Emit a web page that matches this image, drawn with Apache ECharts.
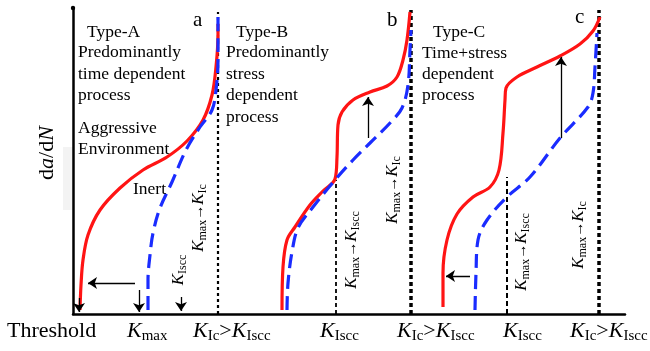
<!DOCTYPE html>
<html><head><meta charset="utf-8">
<script src="https://cdn.jsdelivr.net/npm/echarts@6/dist/echarts.min.js"></script>
<style>html,body{margin:0;padding:0;background:#fff}#c{width:650px;height:351px}</style>
</head><body><div id="c"></div>
<script>
// Schematic curves: [K-position, log da/dN] in arbitrary schematic units
var redA = [[7,4],[8,29],[10,54],[15,79],[27,104],[47,126],[70,144],[94,157],[114,173],[130,194],[139,219],[143,247],[145,279],[145,290]];
var blueA = [[75,4],[75,34],[77,59],[80,81],[87,106],[99,132],[113,164],[127,187],[139,204],[143,224],[145,254],[145,284],[145,299]];
var redB = [[209,4],[210,47],[214,74],[222,87],[237,109],[250,123],[262,135],[264,157],[265,189],[269,202],[280,214],[297,222],[314,228],[324,237],[330,254],[334,274],[337,302]];
var blueB = [[214,4],[215,31],[219,62],[225,86],[240,107],[262,134],[280,154],[297,171],[317,191],[329,206],[335,229],[337,264],[338,284]];
var redC = [[370,7],[370,41],[374,74],[384,100],[400,117],[417,127],[426,144],[430,181],[432,214],[433,226],[444,237],[464,247],[487,258],[507,270],[520,283],[527,297]];
var blueC = [[402,4],[403,41],[405,74],[414,94],[434,117],[457,137],[487,176],[515,207],[520,221],[522,247],[524,281]];
// Reference lines: [x, yTop]
var guideKIcA = [145, 302];
var guideKIcB = [338, 304];
var guideKIsccB = [263, 134];
var guideKIcC = [526, 304];
var guideKIsccC = [434, 137];
// Arrows: [[x0,y0],[x1,y1]]
var arrows = [
  [[62,31],[15,31]],
  [[6,16],[6,2]],
  [[66,24],[66,2]],
  [[108,17],[108,3]],
  [[295,176],[295,217]],
  [[488,176],[488,257]],
  [[397,38],[373,38]]
];
var bottomLabels = ['Threshold','K_max','K_Ic>K_Iscc','K_Iscc','K_Ic>K_Iscc','K_Iscc','K_Ic>K_Iscc'];

var RED = '#ff1414', BLUE = '#1a2cff';
var serif = 'Liberation Serif';
function curve(d, color, dashed, z) {
  return {type:'line', data:d, smooth:0.35, showSymbol:false, silent:true, z:z,
    lineStyle:{color:color, width: dashed?3.2:3.2, type: dashed?[14,7]:'solid', cap:'butt'}};
}
function guide(g, width, dash) {
  return {type:'line', data:[[g[0],0],[g[0],g[1]]], showSymbol:false, silent:true, z:1,
    lineStyle:{color:'#000', width:width, type:dash}};
}
var series = [
  guide(guideKIcA, 2.2, [3,3]),
  guide(guideKIcB, 3.5, [4,3]),
  guide(guideKIsccB, 1.8, [4,3]),
  guide(guideKIcC, 3.5, [4,3]),
  guide(guideKIsccC, 2, [5,3]),
  curve(redA, RED, false, 3), curve(blueA, BLUE, true, 4),
  curve(redB, RED, false, 3), curve(blueB, BLUE, true, 4),
  curve(redC, RED, false, 3), curve(blueC, BLUE, true, 4),
  {type:'lines', coordinateSystem:'cartesian2d', silent:true, z:5,
   symbol:['none','arrow'], symbolSize:[7,9],
   lineStyle:{color:'#000', width:1.3, opacity:1, curveness:0},
   data: arrows.map(function(a){return {coords:a};})}
];

// rich text helpers
var rich = {
  t:{fontFamily:serif, fontSize:22, color:'#000', lineHeight:26},
  k:{fontFamily:serif, fontSize:22, fontStyle:'italic', color:'#000', lineHeight:26},
  s:{fontFamily:serif, fontSize:15, color:'#000', lineHeight:15, verticalAlign:'bottom'},
  kr:{fontFamily:serif, fontSize:17, fontStyle:'italic', color:'#000', lineHeight:20},
  sr:{fontFamily:serif, fontSize:12, color:'#000', lineHeight:12, verticalAlign:'bottom'},
  ar:{fontFamily:serif, fontSize:15, color:'#000', lineHeight:20}
};
function fmt(lbl, big) {
  if (lbl === 'Threshold') return '{t|Threshold}';
  var k = big ? 'k' : 'kr', s = big ? 's' : 'sr';
  return lbl.split(/(>|→)/).map(function(p){
    if (p === '>') return '{t|>}';
    if (p === '→') return '{ar|→}';
    var m = p.split('_');
    return '{'+k+'|'+m[0]+'}{'+s+'|'+m[1]+'}';
  }).join('');
}
var bottomX = [7,127,193,320,397,503,570];
var graphics = [];
graphics.push({type:'rect', shape:{x:63,y:147,width:10,height:63}, style:{fill:'#f3f3f3'}, z:-1});
graphics.push({type:'circle', shape:{cx:73,cy:8,r:2.2}, style:{fill:'#000'}, z:10});
bottomLabels.forEach(function(l,i){
  graphics.push({type:'text', x:bottomX[i], y:331, style:{text:fmt(l,true), rich:rich, verticalAlign:'middle', align:'left'}, z:10});
});
function txt(s, x, y, size, extra) {
  var st = {text:s, fontFamily:serif, fontSize:size||17, fill:'#000', verticalAlign:'middle', align:'left'};
  if (extra) for (var k in extra) st[k]=extra[k];
  graphics.push({type:'text', x:x, y:y, style:st, z:10});
}
var tsize = 17.5;
txt('Type-A',87,32,tsize); txt('Predominantly',78,52,tsize); txt('time dependent',78,74,tsize); txt('process',78,95,tsize);
txt('Aggressive',78,128,tsize); txt('Environment',78,149,tsize); txt('Inert',133,189,tsize);
txt('Type-B',236,32,tsize); txt('Predominantly',226,52,tsize); txt('stress',226,74,tsize); txt('dependent',226,95,tsize); txt('process',226,117,tsize);
txt('Type-C',433,32,tsize); txt('Time+stress',422,53,tsize); txt('dependent',422,74,tsize); txt('process',422,95,tsize);
txt('a',193,20,21); txt('b',387,20,21); txt('c',575,17,21);
// y axis name
graphics.push({type:'text', x:47, y:153, rotation:Math.PI/2,
  style:{text:'{t|d}{k|a}{t|/d}{k|N}', rich:rich, align:'center', verticalAlign:'middle'}, z:10});
// rotated annotations
function rot(lbl, cx, cy) {
  graphics.push({type:'text', x:cx, y:cy, rotation:Math.PI/2,
    style:{text:fmt(lbl,false), rich:rich, align:'center', verticalAlign:'middle'}, z:10});
}
rot('K_Iscc',179,270); rot('K_max→K_Ic',199,218);
rot('K_max→K_Iscc',352,250); rot('K_max→K_Ic',393,190);
rot('K_max→K_Iscc',522,252); rot('K_max→K_Ic',579,235);

var chart = echarts.init(document.getElementById('c'), null, {renderer:'canvas'});
chart.setOption({
  animation:false,
  backgroundColor:'#fff',
  grid:{left:73, right:25, top:8, bottom:37},
  xAxis:{type:'value', min:0, max:552, axisLine:{show:true, onZero:false, lineStyle:{color:'#000', width:2.5}},
    axisTick:{show:false}, axisLabel:{show:false}, splitLine:{show:false}},
  yAxis:{type:'value', min:0, max:306, axisLine:{show:true, onZero:false, lineStyle:{color:'#000', width:2.5}},
    axisTick:{show:false}, axisLabel:{show:false}, splitLine:{show:false}},
  series:series,
  graphic:graphics
});
</script></body></html>
